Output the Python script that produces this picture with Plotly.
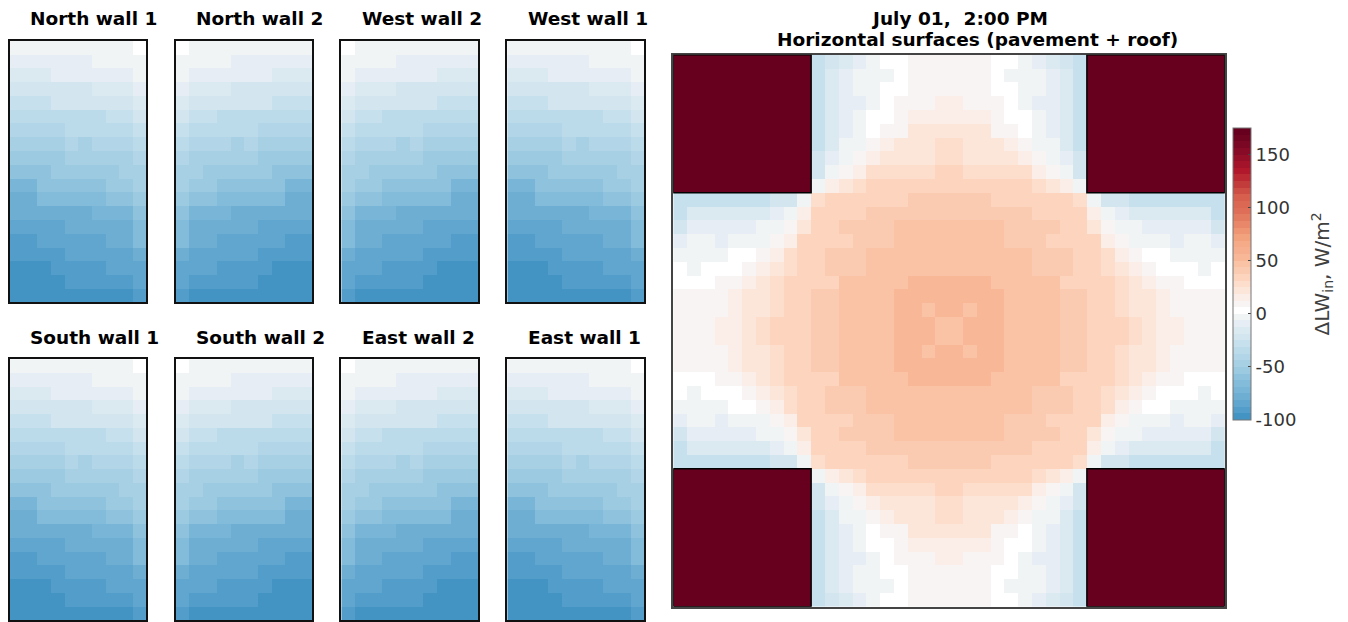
import plotly.graph_objects as go

FONT = "DejaVu Sans"
W, H = 1348, 622

# Upper-left wall-panel values, W/m2 (19 heights x 10 positions)
WALL_1 = [
    [-3,-3,-3,-3,-3,-3,-3,-3,-3,3],
    [-9,-9,-9,-9,-9,-9,-3,-3,-3,-3],
    [-16,-16,-16,-9,-9,-9,-9,-9,-9,-3],
    [-22,-22,-22,-22,-22,-22,-16,-16,-16,-9],
    [-28,-28,-28,-22,-22,-22,-22,-22,-22,-16],
    [-34,-34,-34,-34,-34,-34,-34,-28,-28,-22],
    [-41,-41,-41,-41,-34,-34,-34,-34,-34,-28],
    [-47,-47,-47,-47,-41,-47,-41,-41,-41,-34],
    [-53,-53,-53,-53,-47,-47,-47,-47,-47,-41],
    [-59,-59,-59,-53,-53,-53,-53,-53,-47,-47],
    [-72,-72,-59,-59,-59,-59,-59,-53,-53,-47],
    [-78,-78,-66,-66,-66,-66,-66,-59,-59,-53],
    [-78,-78,-78,-78,-78,-78,-72,-72,-72,-59],
    [-84,-84,-84,-84,-78,-78,-78,-78,-78,-66],
    [-91,-91,-84,-84,-84,-84,-84,-78,-78,-66],
    [-91,-91,-91,-91,-84,-84,-84,-84,-84,-78],
    [-97,-97,-97,-91,-91,-91,-91,-84,-84,-84],
    [-97,-97,-97,-97,-91,-91,-91,-91,-91,-84],
    [-97,-97,-97,-97,-97,-97,-97,-97,-97,-91],
]
WALL_2 = [
    [3,-3,-3,-3,-3,-3,-3,-3,-3,-3],
    [-3,-3,-3,-3,-9,-9,-9,-9,-9,-9],
    [-3,-9,-9,-9,-9,-9,-9,-16,-16,-16],
    [-9,-16,-16,-16,-22,-22,-22,-22,-22,-22],
    [-16,-22,-22,-22,-22,-22,-22,-28,-28,-28],
    [-22,-28,-28,-34,-34,-34,-34,-34,-34,-34],
    [-28,-34,-34,-34,-34,-34,-41,-41,-41,-41],
    [-34,-41,-41,-41,-47,-41,-47,-47,-47,-47],
    [-41,-47,-47,-47,-47,-47,-53,-53,-53,-53],
    [-47,-47,-53,-53,-53,-53,-53,-59,-59,-59],
    [-47,-53,-53,-59,-59,-59,-59,-59,-72,-72],
    [-53,-59,-59,-66,-66,-66,-66,-66,-78,-78],
    [-59,-72,-72,-72,-78,-78,-78,-78,-78,-78],
    [-66,-78,-78,-78,-78,-78,-84,-84,-84,-84],
    [-66,-78,-78,-84,-84,-84,-84,-84,-91,-91],
    [-78,-84,-84,-84,-84,-84,-91,-91,-91,-91],
    [-84,-84,-84,-91,-91,-91,-91,-97,-97,-97],
    [-84,-91,-91,-91,-91,-91,-97,-97,-97,-97],
    [-91,-97,-97,-97,-97,-97,-97,-97,-97,-97],
]
WALL_TITLES = ["North wall 1", "North wall 2", "West wall 2", "West wall 1",
               "South wall 1", "South wall 2", "East wall 2", "East wall 1"]
WALL_DATA = [WALL_1, WALL_2, WALL_2, WALL_1, WALL_1, WALL_2, WALL_2, WALL_1]

# North-west quarter of the horizontal-surface field, W/m2 (the picture mirrors it in both directions)
R = 172
SURFACE_NW = [
    [R,R,R,R,R,R,R,R,R,R,-28,-22,-16,-9,-3,3,3,9,9,9],
    [R,R,R,R,R,R,R,R,R,R,-28,-16,-9,-3,-3,-3,3,9,9,9],
    [R,R,R,R,R,R,R,R,R,R,-28,-16,-9,-3,-3,3,3,9,9,9],
    [R,R,R,R,R,R,R,R,R,R,-28,-16,-9,-9,-3,3,9,9,9,16],
    [R,R,R,R,R,R,R,R,R,R,-28,-16,-9,-3,3,3,9,16,16,16],
    [R,R,R,R,R,R,R,R,R,R,-28,-16,-9,-3,3,9,9,22,22,22],
    [R,R,R,R,R,R,R,R,R,R,-28,-16,-3,-3,9,16,22,22,22,28],
    [R,R,R,R,R,R,R,R,R,R,-22,-9,-3,9,16,22,22,22,22,28],
    [R,R,R,R,R,R,R,R,R,R,-22,-3,9,16,28,28,28,28,28,34],
    [R,R,R,R,R,R,R,R,R,R,-3,16,22,28,34,34,34,34,34,34],
    [-28,-28,-28,-28,-28,-28,-28,-22,-22,-3,28,34,34,34,34,34,34,41,41,41],
    [-28,-16,-16,-16,-16,-16,-16,-9,-3,16,34,34,34,34,41,41,41,41,41,41],
    [-22,-9,-9,-9,-9,-9,-3,-3,9,22,34,34,41,41,41,41,47,47,47,47],
    [-9,-3,-3,-9,-3,-3,-3,9,16,34,34,34,34,41,41,41,47,47,47,47],
    [-3,-3,-3,-3,3,3,9,16,28,34,34,41,41,41,47,47,47,47,47,47],
    [3,-3,3,3,3,9,16,22,28,34,34,41,41,41,47,47,47,47,47,47],
    [3,3,3,9,9,16,22,28,34,34,34,34,47,47,47,47,47,53,53,53],
    [9,9,9,9,16,22,22,28,34,34,41,41,47,47,47,47,53,53,53,53],
    [9,9,9,9,16,22,22,28,34,34,41,41,47,47,47,47,53,53,47,53],
    [9,9,9,16,16,22,28,34,34,34,41,41,47,47,47,47,53,53,53,47],
]
SURFACE_N = [row + row[::-1] for row in SURFACE_NW]
SURFACE = SURFACE_N + SURFACE_N[::-1]

# Colour bands, 6.25 W/m2 wide, from -100 up to 175
BANDS = ["#4393c3","#529dc9","#60a6cf","#6eaed3","#78b5d6","#83bbda","#8fc3dd","#9ccae1",
         "#a8d0e4","#b2d6e8","#bcdbea","#c7e0ed","#d3e6f0","#dbe9f1","#e6edf4","#f0f4f5",
         "#ffffff","#f8f4f3","#fbeee8","#fce6da","#fddecd","#fdd4be","#fbcbb1","#fac3a6",
         "#f8b898","#f6b090","#f5aa88","#f3a27e","#ee9574","#e8876a","#e37b60","#de6e57",
         "#da6852","#d6604d","#cd4e44","#c33c3c","#bb2a33","#b2182b","#a3142a","#950f28",
         "#870b26","#7a0723","#6f0421","#67001f"]
scale = []
for i, c in enumerate(BANDS):
    scale += [[i / len(BANDS), c], [(i + 1) / len(BANDS), c]]

TICKS = [150, 100, 50, 0, -50, -100]
TICK_TEXT = ["150", "100", "50", "0", "-50", "-100"]

COLS = [(9, 147), (175, 313), (340.5, 479), (506.5, 645)]
ROWS = [(40, 303), (358.5, 621)]
BIG = (672.5, 1225.5, 54, 607.5)
FRAME = 0.75

fig = go.Figure()
layout = {}
annotations = []


def add_axes(n, x0, x1, y0, y1, nx, ny, color="#111111"):
    suffix = "" if n == 1 else str(n)
    common = dict(showgrid=False, zeroline=False, showticklabels=False, ticks="",
                  showline=True, mirror=True, linecolor=color, linewidth=1.5)
    layout["xaxis" + suffix] = dict(domain=[(x0 + FRAME) / W, (x1 - FRAME) / W], range=[-0.5, nx - 0.5],
                                    anchor="y" + suffix, **common)
    layout["yaxis" + suffix] = dict(domain=[1 - (y1 - FRAME) / H, 1 - (y0 + FRAME) / H], range=[ny - 0.5, -0.5],
                                    anchor="x" + suffix, **common)
    return "x" + suffix, "y" + suffix


def title(text, x, y, anchor="left", size=18.5):
    annotations.append(dict(text=text, x=x / W, y=1 - y / H, xref="paper", yref="paper",
                            xanchor=anchor, yanchor="middle", showarrow=False,
                            font=dict(family=FONT, size=size, color="#000000", weight=700)))


for i, (name, data) in enumerate(zip(WALL_TITLES, WALL_DATA)):
    x0, x1 = COLS[i % 4]
    y0, y1 = ROWS[i // 4]
    xa, ya = add_axes(i + 1, x0, x1, y0, y1, len(data[0]), len(data))
    fig.add_trace(go.Heatmap(z=data, xaxis=xa, yaxis=ya, coloraxis="coloraxis", hoverongaps=False))
    title(name, x0 + 19, y0 - 22 if i < 4 else y0 - 21.5)

xa, ya = add_axes(9, BIG[0], BIG[1], BIG[2], BIG[3], 40, 40, color="#444444")
fig.add_trace(go.Heatmap(z=SURFACE, xaxis=xa, yaxis=ya, coloraxis="coloraxis"))
title("July 01,  2:00 PM", 959.5, 18.5, "center")
title("Horizontal surfaces (pavement + roof)", 977, 39, "center")

annotations.append(dict(text="ΔLW<sub>in</sub>, W/m<sup>2</sup>", x=1322 / W, y=1 - 274.5 / H,
                        xref="paper", yref="paper", xanchor="center", yanchor="middle",
                        showarrow=False, textangle=-90,
                        font=dict(family=FONT, size=20, color="#404040")))

shapes = []
for sx0, sx1 in [(-0.5, 9.5), (29.5, 39.5)]:
    for sy0, sy1 in [(-0.5, 9.5), (29.5, 39.5)]:
        shapes.append(dict(type="rect", xref=xa, yref=ya, x0=sx0, x1=sx1, y0=sy0, y1=sy1,
                           line=dict(color="#000000", width=1.5), fillcolor="rgba(0,0,0,0)"))

fig.update_layout(
    width=W, height=H, autosize=False, margin=dict(l=0, r=0, t=0, b=0),
    paper_bgcolor="#ffffff", plot_bgcolor="#ffffff", showlegend=False,
    font=dict(family=FONT), annotations=annotations, shapes=shapes,
    coloraxis=dict(
        cmin=-100, cmax=175, colorscale=scale,
        colorbar=dict(
            x=1233 / W, xanchor="left", xpad=0, y=1 - 420 / H, yanchor="bottom", ypad=0,
            len=292 / H, lenmode="fraction", thickness=18, thicknessmode="pixels",
            outlinecolor="#777777", outlinewidth=1, tickmode="array", tickvals=TICKS,
            ticktext=TICK_TEXT, ticks="inside", ticklen=3, tickcolor="#444444",
            tickfont=dict(family=FONT, size=18, color="#333333"),
        ),
    ),
    **layout,
)

fig.write_html("out.html", config={"displayModeBar": False},
               post_script="document.body.style.margin='0';")
